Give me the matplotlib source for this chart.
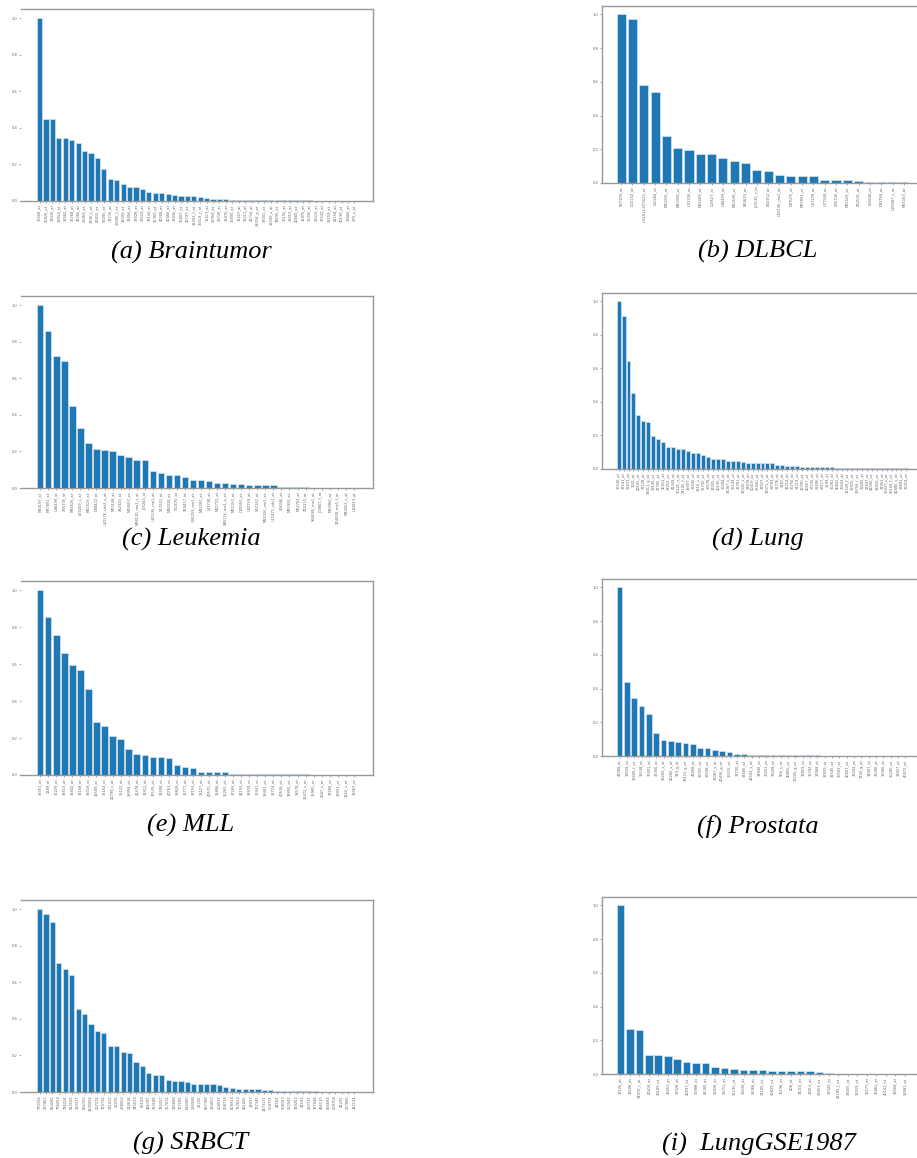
import matplotlib
matplotlib.use("Agg")
import matplotlib.pyplot as plt

# importance scores (normalised), one list per dataset
braintumor = [1.0, 0.447, 0.447, 0.345, 0.342, 0.331, 0.318, 0.273, 0.265, 0.235,
              0.173, 0.120, 0.116, 0.091, 0.078, 0.078, 0.067, 0.047, 0.045, 0.044,
              0.040, 0.031, 0.027, 0.027, 0.027, 0.022, 0.016, 0.011, 0.011, 0.011,
              0.007, 0.007, 0.007, 0.007, 0.007, 0.005, 0.005, 0.005, 0.005, 0.005,
              0.003, 0.003, 0.003, 0.001, 0.001, 0.0008, 0.0005, 0.0005, 0.0003, 0.0002]
dlbcl = [1.0, 0.972, 0.583, 0.540, 0.280, 0.206, 0.194, 0.171, 0.171, 0.149,
         0.131, 0.117, 0.079, 0.069, 0.050, 0.044, 0.040, 0.040, 0.018, 0.018,
         0.018, 0.010, 0.008, 0.008, 0.008, 0.004]
leukemia = [1.0, 0.856, 0.723, 0.697, 0.451, 0.328, 0.248, 0.212, 0.206, 0.201,
            0.182, 0.168, 0.153, 0.153, 0.091, 0.084, 0.073, 0.073, 0.058, 0.044,
            0.044, 0.038, 0.029, 0.026, 0.020, 0.020, 0.018, 0.015, 0.015, 0.015,
            0.007, 0.007, 0.004, 0.003, 0.002, 0.001, 0.0008, 0.0005, 0.0003, 0.0002]
lung = [1.0, 0.915, 0.642, 0.453, 0.324, 0.288, 0.280, 0.194, 0.179, 0.163,
        0.133, 0.133, 0.121, 0.119, 0.105, 0.097, 0.095, 0.081, 0.069, 0.057,
        0.057, 0.057, 0.047, 0.047, 0.047, 0.043, 0.037, 0.037, 0.037, 0.034,
        0.034, 0.034, 0.024, 0.024, 0.018, 0.018, 0.018, 0.012, 0.012, 0.012,
        0.011, 0.011, 0.010, 0.010, 0.008, 0.008, 0.008, 0.008, 0.008, 0.007,
        0.007, 0.007, 0.007, 0.007, 0.007, 0.004, 0.004, 0.003, 0.003]
mll = [1.0, 0.853, 0.757, 0.658, 0.596, 0.567, 0.464, 0.286, 0.264, 0.210,
       0.196, 0.140, 0.111, 0.109, 0.100, 0.096, 0.091, 0.056, 0.042, 0.040,
       0.014, 0.014, 0.014, 0.014, 0.007, 0.005, 0.005, 0.005, 0.005, 0.003,
       0.003, 0.003, 0.003, 0.003, 0.001, 0.0008, 0.0005, 0.0004, 0.0003, 0.0002]
prostata = [1.0, 0.441, 0.346, 0.294, 0.247, 0.138, 0.095, 0.091, 0.085, 0.075,
            0.071, 0.049, 0.047, 0.036, 0.030, 0.026, 0.014, 0.010, 0.003, 0.003,
            0.003, 0.003, 0.003, 0.003, 0.003, 0.003, 0.003, 0.003, 0.0008, 0.0006,
            0.0005, 0.0004, 0.0004, 0.0003, 0.0003, 0.0002, 0.0002, 0.0001, 0.0001, 0.0001]
srbct = [1.0, 0.971, 0.932, 0.708, 0.670, 0.641, 0.456, 0.425, 0.374, 0.334,
         0.325, 0.254, 0.250, 0.221, 0.215, 0.162, 0.140, 0.105, 0.093, 0.093,
         0.066, 0.061, 0.061, 0.052, 0.046, 0.046, 0.045, 0.042, 0.040, 0.029,
         0.024, 0.018, 0.015, 0.015, 0.015, 0.009, 0.009, 0.006, 0.006, 0.006,
         0.005, 0.005, 0.005, 0.004, 0.002, 0.002, 0.002, 0.002, 0.0005, 0.0003]
lung_gse1987 = [1.0, 0.266, 0.262, 0.115, 0.111, 0.105, 0.089, 0.073, 0.063, 0.063,
                0.044, 0.038, 0.028, 0.022, 0.022, 0.022, 0.018, 0.018, 0.018, 0.018,
                0.018, 0.012, 0.006, 0.002, 0.002, 0.002, 0.002, 0.001, 0.0005, 0.0003,
                0.0002]

# gene ids on the x axis (too small to read in the source, so these are approximate)
braintumor_genes = """37408_at 35825_at 33016_at 39054_at 32582_at 36768_at 41266_at 32069_at
1336_s_at 40415_at 36095_at 34776_at 38406_f_at 31508_at 31856_at 37028_at 32524_at
37144_at 35760_at 41208_at 40466_at 33436_at 35807_at 40797_at 31993_f_at 36619_r_at
35617_at 37958_at 38739_at 39476_at 36890_at 32227_at 33211_at 41734_at 38018_g_at
37001_at 39330_s_at 34695_at 36192_at 38453_at 40665_at 31875_at 35336_at 39213_at
37542_at 32159_at 41158_at 40198_at 33860_at 279_s_at""".split()
dlbcl_genes = """X07109_at D10202_at HG1612-HT1612_at L10284_at M60315_at M33308_at
U03106_at M24069_at L19527_at U46499_at M22538_at X63629_at J04130_s_at X02152_at
U50136_rna1_at D87075_at M27891_at U21128_at U77948_at X95735_at M31523_at X52541_at
L08246_at D83784_at U09087_s_at M55150_at""".split()
leukemia_genes = """M23197_at M27891_at U46499_at X95735_at M84526_at L09209_s_at
M31523_at D88422_at U22376_cds2_s_at M63138_at X62320_at M19507_at M28130_rna1_s_at
J05243_at U50136_rna1_at X17042_at M16038_at Y12670_at X59417_at U05259_rna1_at
M92287_at L47738_at M11722_at X85116_rna1_s_at M55150_at D49950_at U82759_at
X52142_at M96326_rna1_at U12471_cds1_at L08246_at M81933_at M62762_at Z15115_at
X04085_rna1_at J03801_f_at M22960_at X14008_rna1_f_at M83652_s_at U41813_at""".split()
lung_genes = """36536_at 37141_at 38972_at 1141_at 40105_at 32128_at 33411_g_at 39145_at
37395_at 40311_at 32052_at 41349_at 36125_s_at 34105_f_at 39097_at 38430_at 1916_s_at
35730_at 32578_at 37005_at 40195_at 33284_at 38087_s_at 36149_at 31781_at 39330_s_at
34878_at 40419_at 35940_at 37627_at 33371_s_at 38783_at 32776_at 1287_at 41214_at
36792_at 34319_at 39790_at 40567_at 37230_at 32606_at 38117_at 1599_at 35281_at
40841_at 36643_at 31528_f_at 39025_at 33758_f_at 37680_at 32847_at 41096_at 38650_at
34961_at 36937_s_at 35168_f_at 40480_s_at 39681_at 32319_at""".split()
mll_genes = """37351_at 1389_at 36239_at 38413_at 32842_at 34168_at 39318_at 31508_at
35164_at 40798_s_at 36122_at 38994_at 41478_at 33412_at 37539_at 34408_at 40763_at
39828_at 36777_at 32193_at 38127_at 40570_at 31886_at 35260_at 37283_at 41193_at
33439_at 36941_at 39402_at 32724_at 40518_at 34850_at 38578_at 31472_s_at 35985_at
2047_s_at 37280_at 39931_at 1262_s_at 32067_at""".split()
prostata_genes = """41288_at 37639_at 38406_f_at 31538_at 36491_at 37366_at 39206_s_at
40282_s_at 914_g_at 33121_g_at 41468_at 39755_at 32598_at 38087_s_at 40436_g_at
39315_at 37720_at 33405_at 41504_s_at 34840_at 36601_at 38028_at 556_s_at 40856_at
32243_g_at 33819_at 35742_at 37068_at 39939_at 31545_at 36569_at 40607_at 38044_at
1740_g_at 34407_at 32206_at 39366_at 35280_at 38827_at 40071_at""".split()
srbct_genes = """770394 377461 814260 796258 784224 812105 183337 866702 1435862 207274
769716 241412 52076 298062 244618 745019 80109 486787 383188 784257 357031 135688
767183 624360 295985 25725 897788 130057 204545 208718 809910 752652 461425 39093
767345 1473131 504791 44563 308163 212542 789253 41591 233721 377048 486110 866694
209700 45291 357885 142134""".split()
lung_gse1987_genes = """37126_at 38188_at 34970_r_at 40418_at 39189_at 32451_at 33328_at
40697_at 36988_at 41280_at 31839_at 39711_at 35190_at 38630_at 33366_at 37105_at
40839_at 36198_at 408_at 34215_at 32811_at 39453_at 37043_at 41185_f_at 38005_at
33919_at 36577_at 35861_at 40102_at 32568_at 39981_at""".split()

captions = ["(a) Braintumor", "(b) DLBCL", "(c) Leukemia", "(d) Lung",
            "(e) MLL", "(f) Prostata", "(g) SRBCT", "(i)  LungGSE1987"]

panels = [
    (braintumor, braintumor_genes),
    (dlbcl, dlbcl_genes),
    (leukemia, leukemia_genes),
    (lung, lung_genes),
    (mll, mll_genes),
    (prostata, prostata_genes),
    (srbct, srbct_genes),
    (lung_gse1987, lung_gse1987_genes),
]

W, H = 917, 1158
fig = plt.figure(figsize=(W / 100, H / 100), dpi=100)

# axes boxes in pixels: left, right, top, bottom
boxes = [
    (21, 373, 9, 201), (602, 923, 6, 183),
    (21, 373, 296, 488), (602, 923, 293, 469),
    (21, 373, 581, 775), (602, 923, 579, 756),
    (21, 373, 900, 1092), (602, 923, 897, 1074),
]
caption_pos = [(191, 252), (758, 251), (191, 539), (758, 539),
               (191, 825), (758, 826), (191, 1143), (759, 1144)]

for i, ((vals, genes), (l, r, t, b)) in enumerate(zip(panels, boxes)):
    ax = fig.add_axes([l / W, 1 - b / H, (r - l) / W, (b - t) / H])
    x = list(range(len(vals)))
    ax.bar(x, vals, color="#1f77b4", edgecolor="#d6e4f0", linewidth=0.5)
    ax.set_xticks(x)
    ax.set_xticklabels(genes[:len(vals)], rotation=90, fontsize=2.6, color="#444444")
    ax.set_yticks([0.0, 0.2, 0.4, 0.6, 0.8, 1.0])
    ax.set_yticklabels(["0.0", "0.2", "0.4", "0.6", "0.8", "1.0"], fontsize=2.6, color="#444444")
    ax.tick_params(length=1.5, width=0.4, pad=1, colors="#666666")
    for side in ax.spines:
        ax.spines[side].set_color("#999999")
        ax.spines[side].set_linewidth(1.0)
    if i % 2 == 0:
        ax.spines["left"].set_visible(False)

    cx, cy = caption_pos[i]
    fig.text(cx / W, 1 - cy / H, captions[i], ha="center", va="center",
             fontsize=19, style="italic", family="Liberation Serif")

fig.savefig("out.png", dpi=100)
